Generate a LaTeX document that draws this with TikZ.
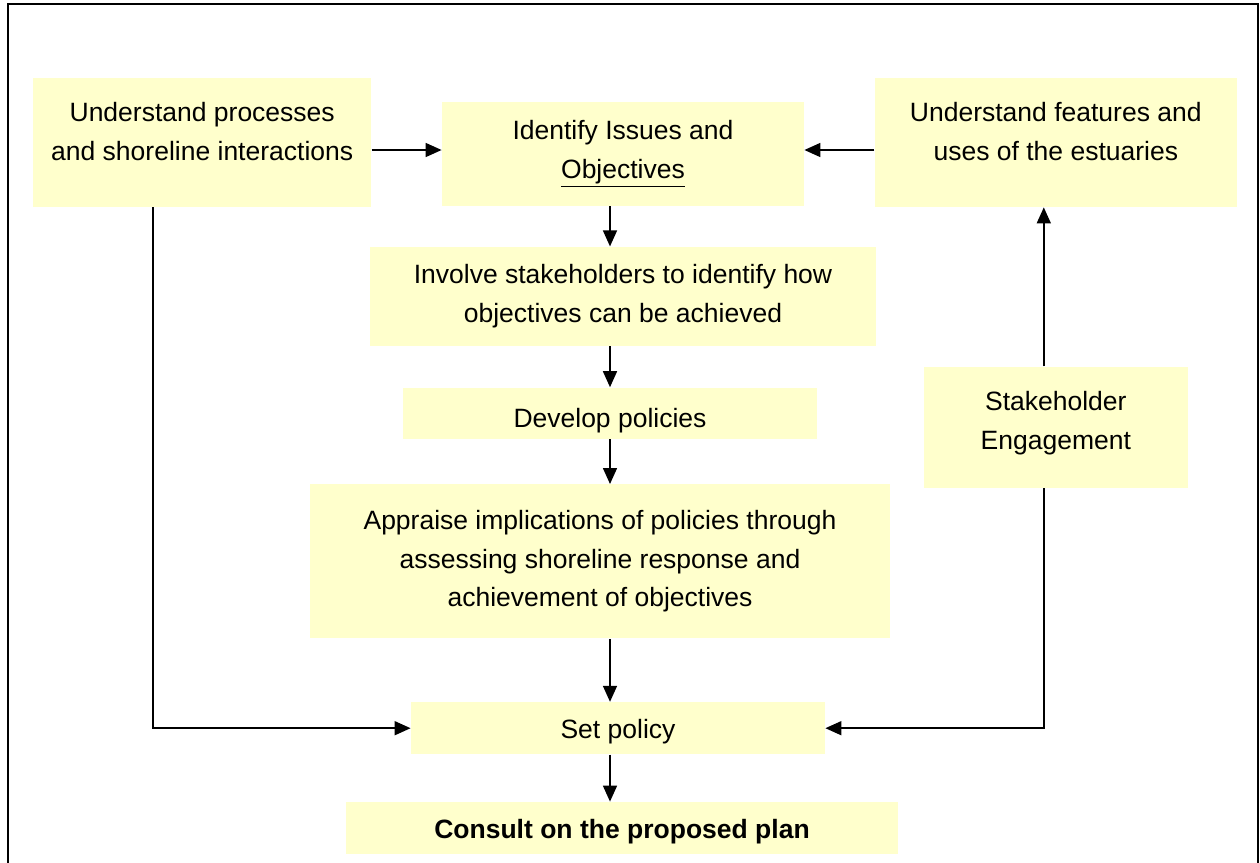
\documentclass[tikz,border=0pt]{standalone}
\usepackage{fontspec}
\setmainfont{Liberation Sans}
\usepackage{xcolor}
\usetikzlibrary{positioning,arrows.meta}
\definecolor{boxyellow}{HTML}{FFFFCC}

\begin{document}
\begin{tikzpicture}[
      box/.style={fill=boxyellow, inner sep=0pt, align=center},
      h/.style={minimum height=26pt, text height=13.5pt},
      toph/.style={minimum height=64.5pt, text depth=11pt},
      sidew/.style={minimum width=181pt},
      shortw/.style={minimum width=207pt},
      arr/.style={line width=0.8pt, -{Triangle[length=8pt,width=7pt]}},
      every node/.style={font=\fontsize{13.25}{19.25}\selectfont}]
    \useasboundingbox (0,0) rectangle (630pt,-431.5pt);
    % outer frame, open at the bottom
    \draw[line width=1.2pt] (4pt,-440pt) -- (4pt,-2pt) -- (629pt,-2pt) -- (629pt,-440pt);

    \node[box, sidew, minimum height=52pt] (issues) at (311.5pt,-77pt) {Identify Issues and\\ \underline{Objectives}};
    \node[box, toph, minimum width=169pt, left=35pt of issues, yshift=5.75pt] (procs) {Understand processes\\ and shoreline interactions};
    \node[box, toph, sidew, right=35pt of issues, yshift=5.75pt] (feats) {Understand features and\\ uses of the estuaries};
    \node[box, minimum width=253pt, minimum height=49.5pt, below=20pt of issues] (involve) {Involve stakeholders to identify how\\ objectives can be achieved};
    \node[box, shortw, minimum height=25.5pt, text height=17.5pt, below=20.5pt of involve, xshift=-6.5pt] (develop) {Develop policies};
    \node[box, minimum width=290pt, minimum height=77pt, below=22.5pt of develop, xshift=-5pt] (appraise) {Appraise implications of policies through\\ assessing shoreline response and\\ achievement of objectives};
    \node[box, h, shortw, below=31.5pt of appraise, xshift=9pt] (setpol) {Set policy};
    \node[box, h, minimum width=276pt, below=23.5pt of setpol, xshift=2pt] (consult) {\textbf{Consult on the proposed plan}};
    \node[box, minimum width=132pt, minimum height=60.5pt, text depth=7pt, below=79.5pt of feats] (stake) {Stakeholder\\ Engagement};

    \draw[arr] ([yshift=2pt]issues.west -| procs.east) -- ([yshift=2pt]issues.west);
    \draw[arr] ([yshift=2pt]issues.east -| feats.west) -- ([yshift=2pt]issues.east);
    \draw[arr] (issues.south -| develop) -- (involve.north -| develop);
    \draw[arr] (involve.south -| develop) -- (develop.north);
    \draw[arr] (develop.south) -- (appraise.north -| develop);
    \draw[arr] (appraise.south -| develop) -- (setpol.north -| develop);
    \draw[arr] (setpol.south -| develop) -- (consult.north -| develop);
    \draw[arr] ([xshift=-24.5pt]procs.south) |- (setpol.west);
    \draw[arr] ([xshift=-6pt]stake.south) |- (setpol.east);
    \draw[arr] ([xshift=-6pt]stake.north) -- ([xshift=-6pt]stake.north |- feats.south);
\end{tikzpicture}
\end{document}
